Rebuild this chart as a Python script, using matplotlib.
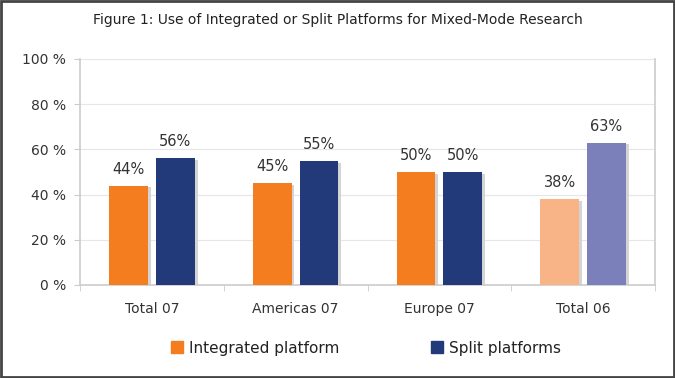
import matplotlib.pyplot as plt
import numpy as np
from matplotlib.patches import Rectangle

categories = ["Total 07", "Americas 07", "Europe 07", "Total 06"]
integrated = [44, 45, 50, 38]
split = [56, 55, 50, 63]
series_names = ["Integrated platform", "Split platforms"]

orange = ["#F47D20", "#F47D20", "#F47D20", "#F8B386"]
navy = ["#233A7A", "#233A7A", "#233A7A", "#7B80BA"]

fig = plt.figure(figsize=(6.75, 3.78), dpi=100)
fig.patch.set_facecolor("white")
ax = fig.add_axes([80 / 675, 1 - 285 / 378, 575 / 675, 226 / 378])

x = np.arange(len(categories))
w = 0.27
off = 0.163

# grey shadows behind the bars
ax.bar(x - off + 0.02, integrated, w, bottom=-0.8, color="#d4d4d4", zorder=2)
ax.bar(x + off + 0.02, split, w, bottom=-0.8, color="#d4d4d4", zorder=2)
b1 = ax.bar(x - off, integrated, w, color=orange, zorder=3)
b2 = ax.bar(x + off, split, w, color=navy, zorder=3)

for rect, v in zip(b1, integrated):
    ax.text(rect.get_x() + rect.get_width() / 2, v + 4, f"{v}%", ha="center", va="bottom",
            fontsize=10.5, color="#333333")
for rect, v in zip(b2, split):
    ax.text(rect.get_x() + rect.get_width() / 2, v + 4, f"{v}%", ha="center", va="bottom",
            fontsize=10.5, color="#333333")

ax.set_xlim(-0.5, len(categories) - 0.5)
ax.set_ylim(0, 100)
ax.set_yticks(range(0, 101, 20))
ax.set_yticklabels([f"{t} %" for t in range(0, 101, 20)], fontsize=10, color="#333333")
ax.set_xticks(x)
ax.set_xticklabels(categories, fontsize=10, color="#333333")
ax.set_xticks(np.arange(-0.5, len(categories)), minor=True)
ax.tick_params(axis="x", which="major", length=0, pad=12)
ax.tick_params(axis="x", which="minor", length=4, color="#cccccc")
ax.tick_params(axis="y", length=4, color="#cccccc", pad=6)
ax.grid(axis="y", color="#e6e6e6", linewidth=0.8, zorder=0)
for s in ["left", "bottom", "right"]:
    ax.spines[s].set_color("#cccccc")
    ax.spines[s].set_linewidth(1.2)
ax.spines["top"].set_visible(False)

fig.text(0.5, 1 - 20 / 378, "Figure 1: Use of Integrated or Split Platforms for Mixed-Mode Research",
         ha="center", va="center", fontsize=10, color="#222222",
         family=["Liberation Sans Narrow", "DejaVu Sans"])

# legend
handles = [Rectangle((0, 0), 1, 1, color="#F47D20"), Rectangle((0, 0), 1, 1, color="#233A7A")]
fig.legend(handles, series_names, loc="center", bbox_to_anchor=(366 / 675, 1 - 348 / 378), ncol=2,
           frameon=False, fontsize=11, handlelength=0.8, handleheight=0.8,
           handletextpad=0.4, columnspacing=6.0, labelcolor="#222222")

# dark frame round the figure
fig.add_artist(Rectangle((0.001, 0.002), 0.997, 0.996, transform=fig.transFigure,
                         fill=False, edgecolor="#444444", linewidth=2))

fig.savefig("out.png", dpi=100)
